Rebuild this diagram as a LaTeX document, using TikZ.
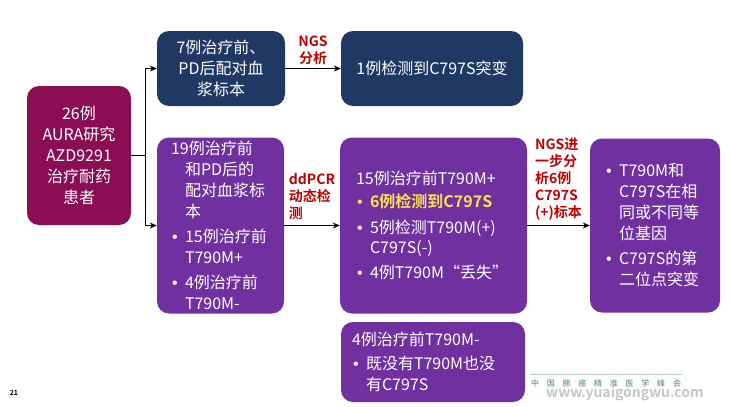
\documentclass[tikz,border=0pt]{standalone}
\usepackage{fontspec}
\setmainfont{Noto Sans CJK SC}[BoldFont={Noto Sans CJK SC Bold}]
\newfontfamily\dotfont{Liberation Sans}
\usetikzlibrary{arrows.meta,positioning,calc}
\definecolor{cohort}{HTML}{8B0E55}
\definecolor{ngs}{HTML}{1F3864}
\definecolor{pcr}{HTML}{7030A0}
\definecolor{method}{HTML}{C00000}
\definecolor{hit}{HTML}{FFE14F}
\definecolor{logo}{HTML}{3F8A6C}
\newcommand{\bul}{\makebox[14pt][l]{\hspace*{1pt}{\dotfont •}}}
\newcommand{\hang}{\hspace*{14pt}}
\tikzset{
  card/.style={rounded corners=12pt, text=white, inner ysep=3pt,
               font=\fontsize{16}{21}\selectfont},
  cohortbox/.style={card, fill=cohort, align=center},
  ngsbox/.style={card, fill=ngs, align=center},
  pcrbox/.style={card, fill=pcr, align=left},
  method/.style={text=method, font=\bfseries\fontsize{14}{17}\selectfont,
                 align=left, inner sep=1pt},
  flow/.style={-{Stealth[length=7pt,width=6pt]}, line width=1.2pt},
  trunk/.style={line width=1.2pt},
}

\begin{document}
\begin{tikzpicture}[x=1pt, y=-1pt]
\fill[white] (0,0) rectangle (731,407);
\useasboundingbox (0,0) rectangle (731,407);

% ---- cohort ---------------------------------------------------------
\node[cohortbox, minimum width=104pt, minimum height=139pt] (aura) at (79,155.5)
     {26例\\AURA研究\\AZD9291\\治疗耐药\\患者};
\coordinate (fork) at ($(aura.east)+(14,0)$);

% ---- NGS branch -----------------------------------------------------
\node[ngsbox, minimum width=128pt, minimum height=75pt] (pair7) at (221,68.5)
     {7例治疗前、\\PD后配对血\\浆标本};
\node[ngsbox, minimum width=182pt, minimum height=75pt] (ngs1) at (432,68.5)
     {1例检测到C797S突变};

% ---- ddPCR branch ---------------------------------------------------
\node[pcrbox, minimum height=176pt, text width=99pt, inner xsep=14pt] (pair19)
     at (220.5,225.5)
     {19例治疗前\\\hang 和PD后的\\\hang 配对血浆标\\\hang 本\\[4pt]
      \bul 15例治疗前\\\hang T790M+\\[4pt]\bul 4例治疗前\\\hang T790M-};
\node[pcrbox, minimum height=176pt, text width=155pt, inner xsep=16pt] (pcr15)
     at (433.5,225.5)
     {15例治疗前T790M+\\[2pt]{\color{hit}\bul\bfseries 6例检测到C797S}\\[5pt]
      \bul 5例检测T790M(+)\\[-1pt]\hang C797S(-)\\[4pt]\bul 4例T790M“丢失”};
\node[pcrbox, minimum height=174pt, text width=100pt, inner xsep=15pt] (allele)
     at (655,225.5)
     {\bul T790M和\\\hang C797S在相\\\hang 同或不同等\\\hang 位基因\\[4pt]
      \bul C797S的第\\\hang 二位点突变};
\node[pcrbox, minimum height=80pt, text width=162pt, inner xsep=11pt] (neg4)
     at (433,362)
     {4例治疗前T790M-\\[3pt]\bul 既没有T790M也没\\\hang 有C797S};

% ---- connectors -----------------------------------------------------
\draw[trunk] (aura.east) -- (fork);
\draw[flow] (fork) |- (pair7.west);
\draw[flow] (fork) |- (pair19.west);
\draw[flow] (pair7) -- node[method, above=2pt, align=center] {NGS\\分析} (ngs1);
\draw[flow] (pair19) -- node[method, above=4pt] {ddPCR\\动态检\\测} (pcr15);
\draw[flow] (pcr15) -- node[method, above=4pt]
      {NGS进\\一步分\\析6例\\C797S\\(+)标本} (allele);

% ---- footer ---------------------------------------------------------
\node[font=\bfseries\fontsize{7}{8}\selectfont] (page) at (14,393) {21};
\node[text=logo, font=\fontsize{8}{9}\selectfont, inner sep=1pt] (meeting) at (606,383)
     {\makebox[150pt][s]{中\hfil 国\hfil 肺\hfil 癌\hfil 精\hfil 准\hfil 医\hfil 学\hfil 峰\hfil 会}};
\draw[logo!40, line width=1pt] ($(meeting.north west)+(0,-4)$) -- ($(meeting.north east)+(0,-4)$);
\node[text=gray!45, font=\bfseries\fontsize{14}{15}\selectfont, anchor=west, inner sep=0pt]
     (site) at (546,394) {www.yuaigongwu.com};
\end{tikzpicture}
\end{document}
